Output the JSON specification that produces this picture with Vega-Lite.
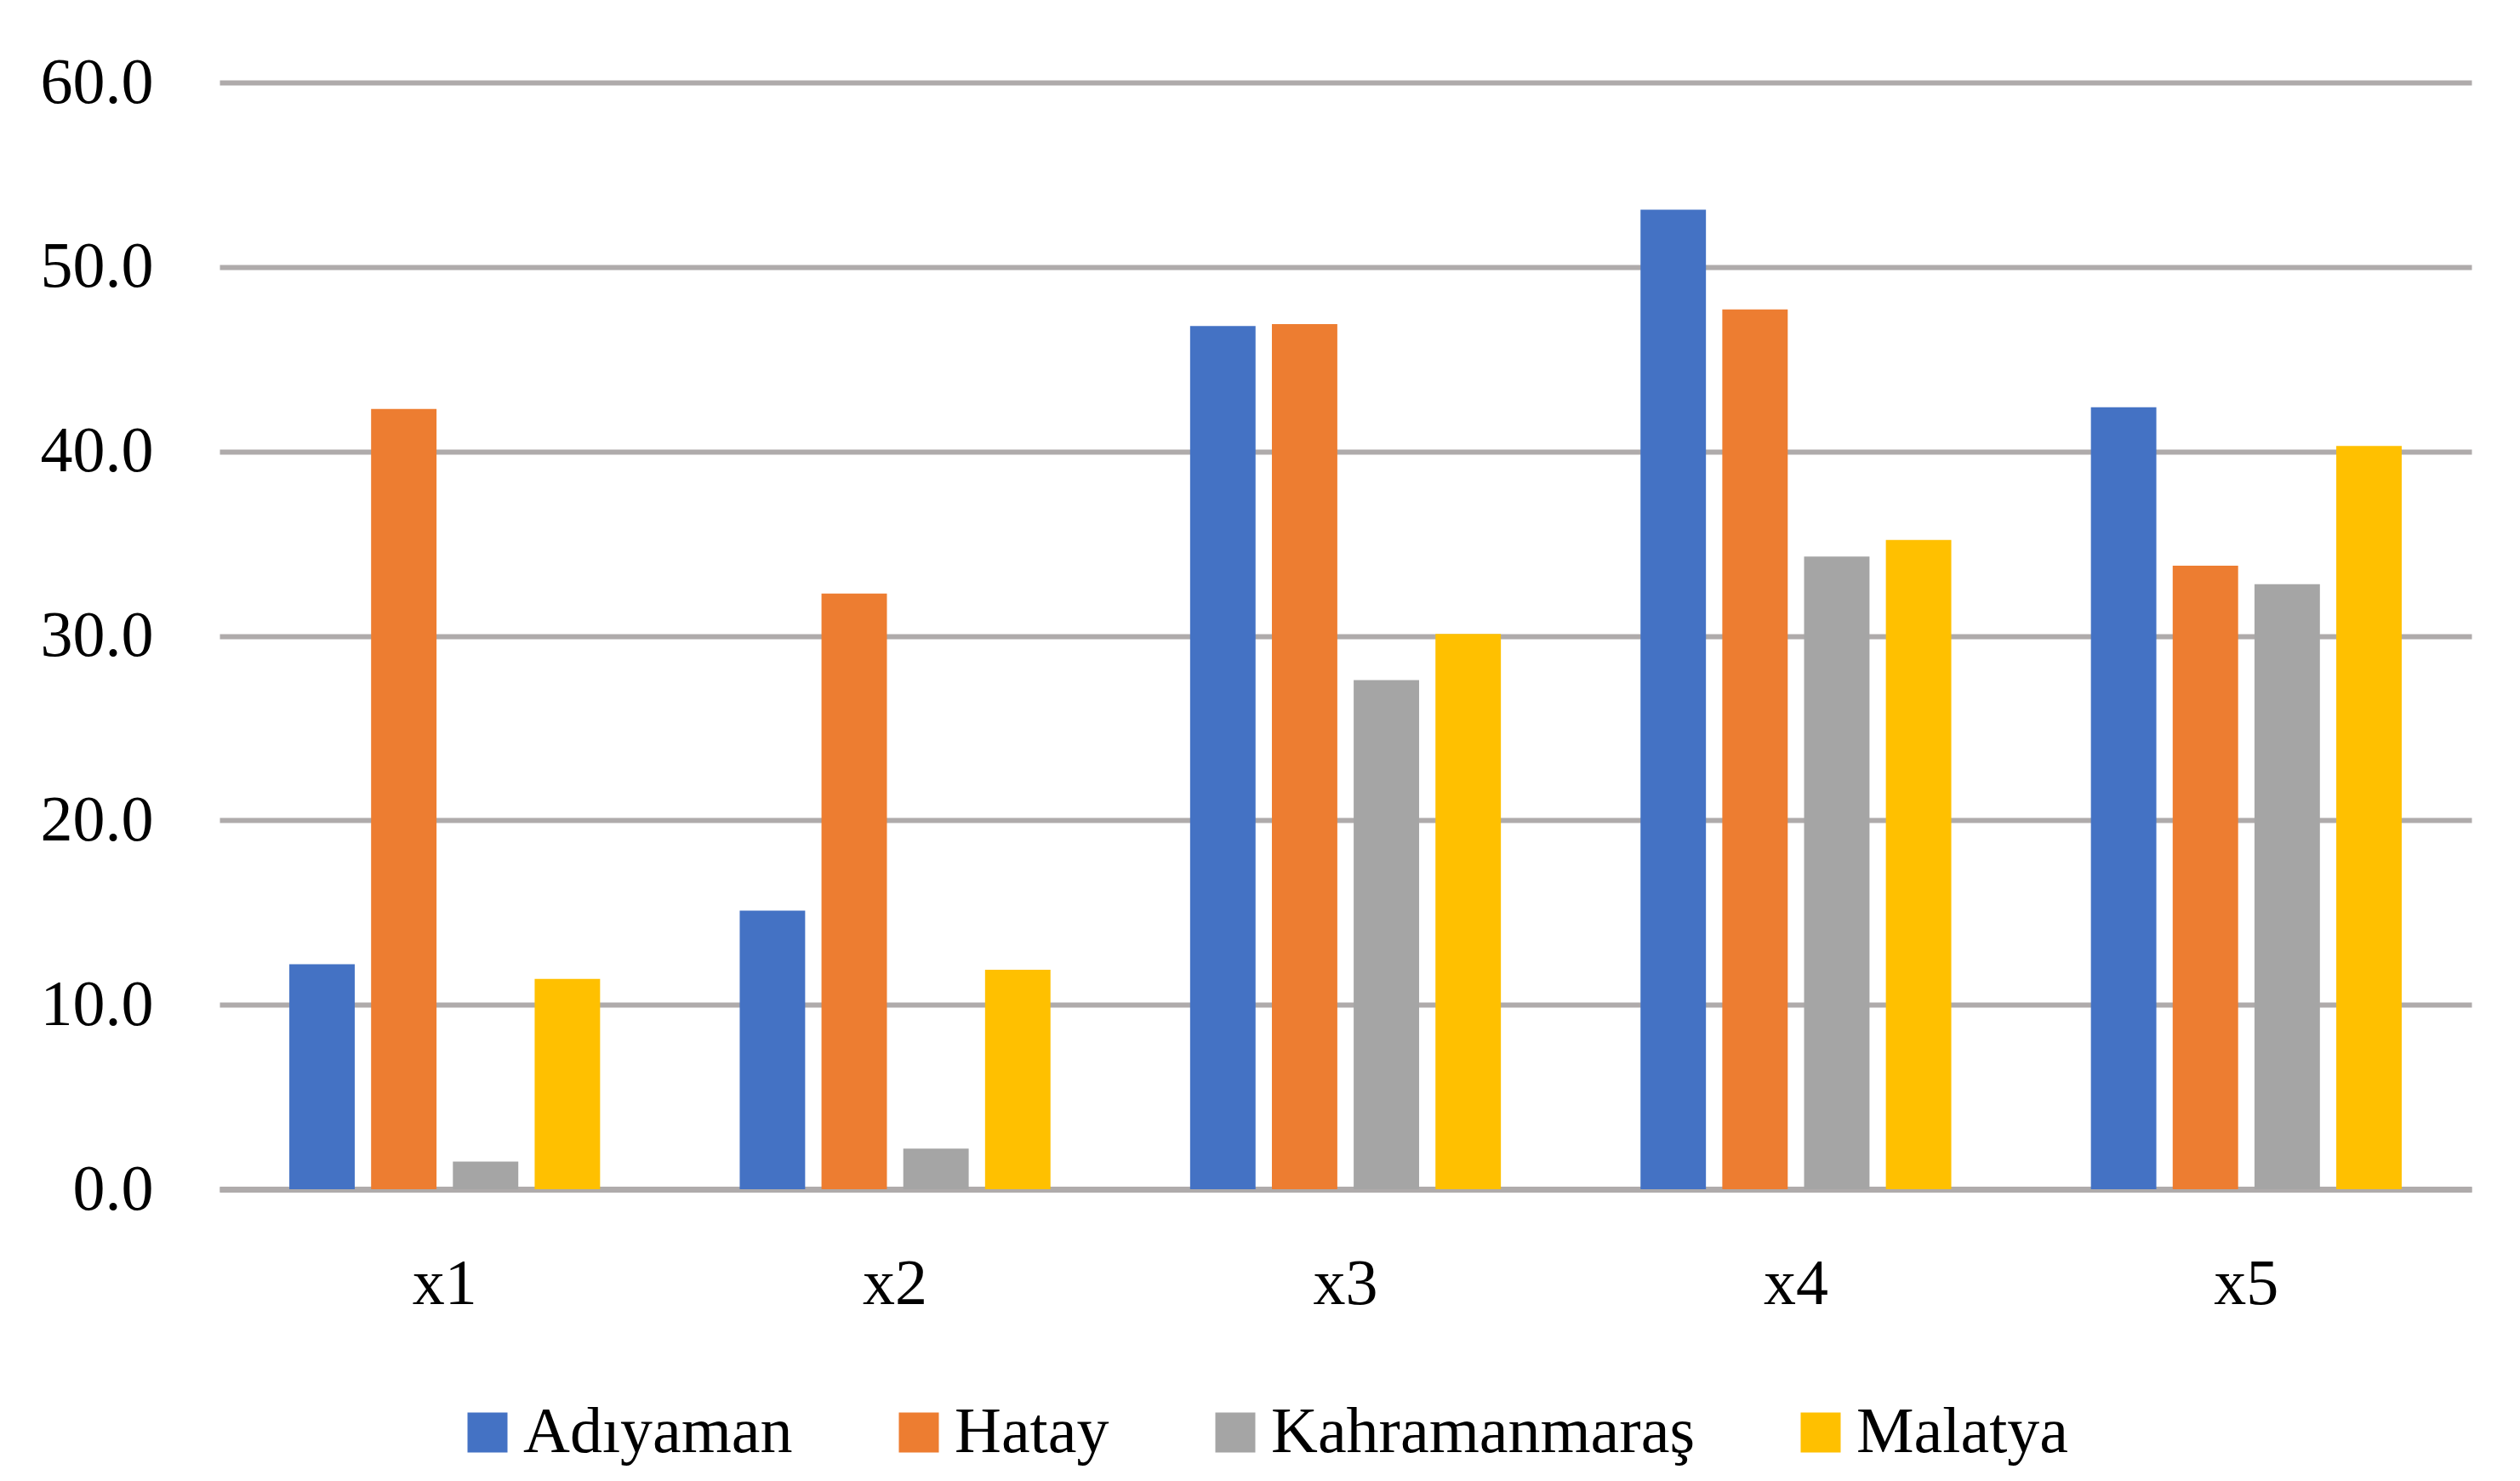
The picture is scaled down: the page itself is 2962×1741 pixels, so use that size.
{
  "$schema": "https://vega.github.io/schema/vega-lite/v6.json",
  "width": 2647,
  "height": 1301,
  "autosize": {"type": "none"},
  "padding": {"left": 258, "top": 97, "right": 57, "bottom": 343},
  "background": "white",
  "config": {"view": {"stroke": null}, "font": "Liberation Serif"},
  "data": {
    "values": [
      {"variable": "x1", "city": "Adıyaman", "value": 12.2},
      {"variable": "x1", "city": "Hatay", "value": 42.3},
      {"variable": "x1", "city": "Kahramanmaraş", "value": 1.5},
      {"variable": "x1", "city": "Malatya", "value": 11.4},
      {"variable": "x2", "city": "Adıyaman", "value": 15.1},
      {"variable": "x2", "city": "Hatay", "value": 32.3},
      {"variable": "x2", "city": "Kahramanmaraş", "value": 2.2},
      {"variable": "x2", "city": "Malatya", "value": 11.9},
      {"variable": "x3", "city": "Adıyaman", "value": 46.8},
      {"variable": "x3", "city": "Hatay", "value": 46.9},
      {"variable": "x3", "city": "Kahramanmaraş", "value": 27.6},
      {"variable": "x3", "city": "Malatya", "value": 30.1},
      {"variable": "x4", "city": "Adıyaman", "value": 53.1},
      {"variable": "x4", "city": "Hatay", "value": 47.7},
      {"variable": "x4", "city": "Kahramanmaraş", "value": 34.3},
      {"variable": "x4", "city": "Malatya", "value": 35.2},
      {"variable": "x5", "city": "Adıyaman", "value": 42.4},
      {"variable": "x5", "city": "Hatay", "value": 33.8},
      {"variable": "x5", "city": "Kahramanmaraş", "value": 32.8},
      {"variable": "x5", "city": "Malatya", "value": 40.3}
    ]
  },
  "mark": {"type": "bar"},
  "encoding": {
    "x": {
      "field": "variable",
      "type": "nominal",
      "scale": {"paddingInner": 0.31, "paddingOuter": 0.155},
      "axis": {
        "title": null,
        "labelAngle": 0,
        "labelFontSize": 76,
        "labelFont": "Liberation Serif",
        "labelColor": "#000000",
        "labelPadding": 74,
        "labelBaseline": "top",
        "ticks": false,
        "tickSize": 0,
        "domainColor": "#AFABAB",
        "domainWidth": 7
      }
    },
    "xOffset": {
      "field": "city",
      "type": "nominal",
      "sort": ["Adıyaman", "Hatay", "Kahramanmaraş", "Malatya"],
      "scale": {"paddingInner": 0.2, "paddingOuter": 0}
    },
    "y": {
      "field": "value",
      "type": "quantitative",
      "scale": {"domain": [0, 60], "nice": false},
      "axis": {
        "title": null,
        "values": [0, 10, 20, 30, 40, 50, 60],
        "format": ".1f",
        "labelFontSize": 76,
        "labelFont": "Liberation Serif",
        "labelColor": "#000000",
        "labelPadding": 78,
        "ticks": false,
        "tickSize": 0,
        "domain": false,
        "gridColor": "#AFABAB",
        "gridWidth": 6
      }
    },
    "color": {
      "field": "city",
      "type": "nominal",
      "scale": {
        "domain": ["Adıyaman", "Hatay", "Kahramanmaraş", "Malatya"],
        "range": ["#4472C4", "#ED7D31", "#A5A5A5", "#FFC000"]
      },
      "legend": {
        "title": null,
        "orient": "none",
        "legendX": 277,
        "legendY": 1549,
        "direction": "horizontal",
        "symbolType": "square",
        "symbolSize": 2209,
        "symbolStrokeWidth": 0,
        "symbolOpacity": 1,
        "labelFontSize": 76,
        "labelFont": "Liberation Serif",
        "labelColor": "#000000",
        "labelOffset": 4,
        "columnPadding": 110,
        "padding": 0,
        "labelLimit": 0
      }
    }
  }
}
